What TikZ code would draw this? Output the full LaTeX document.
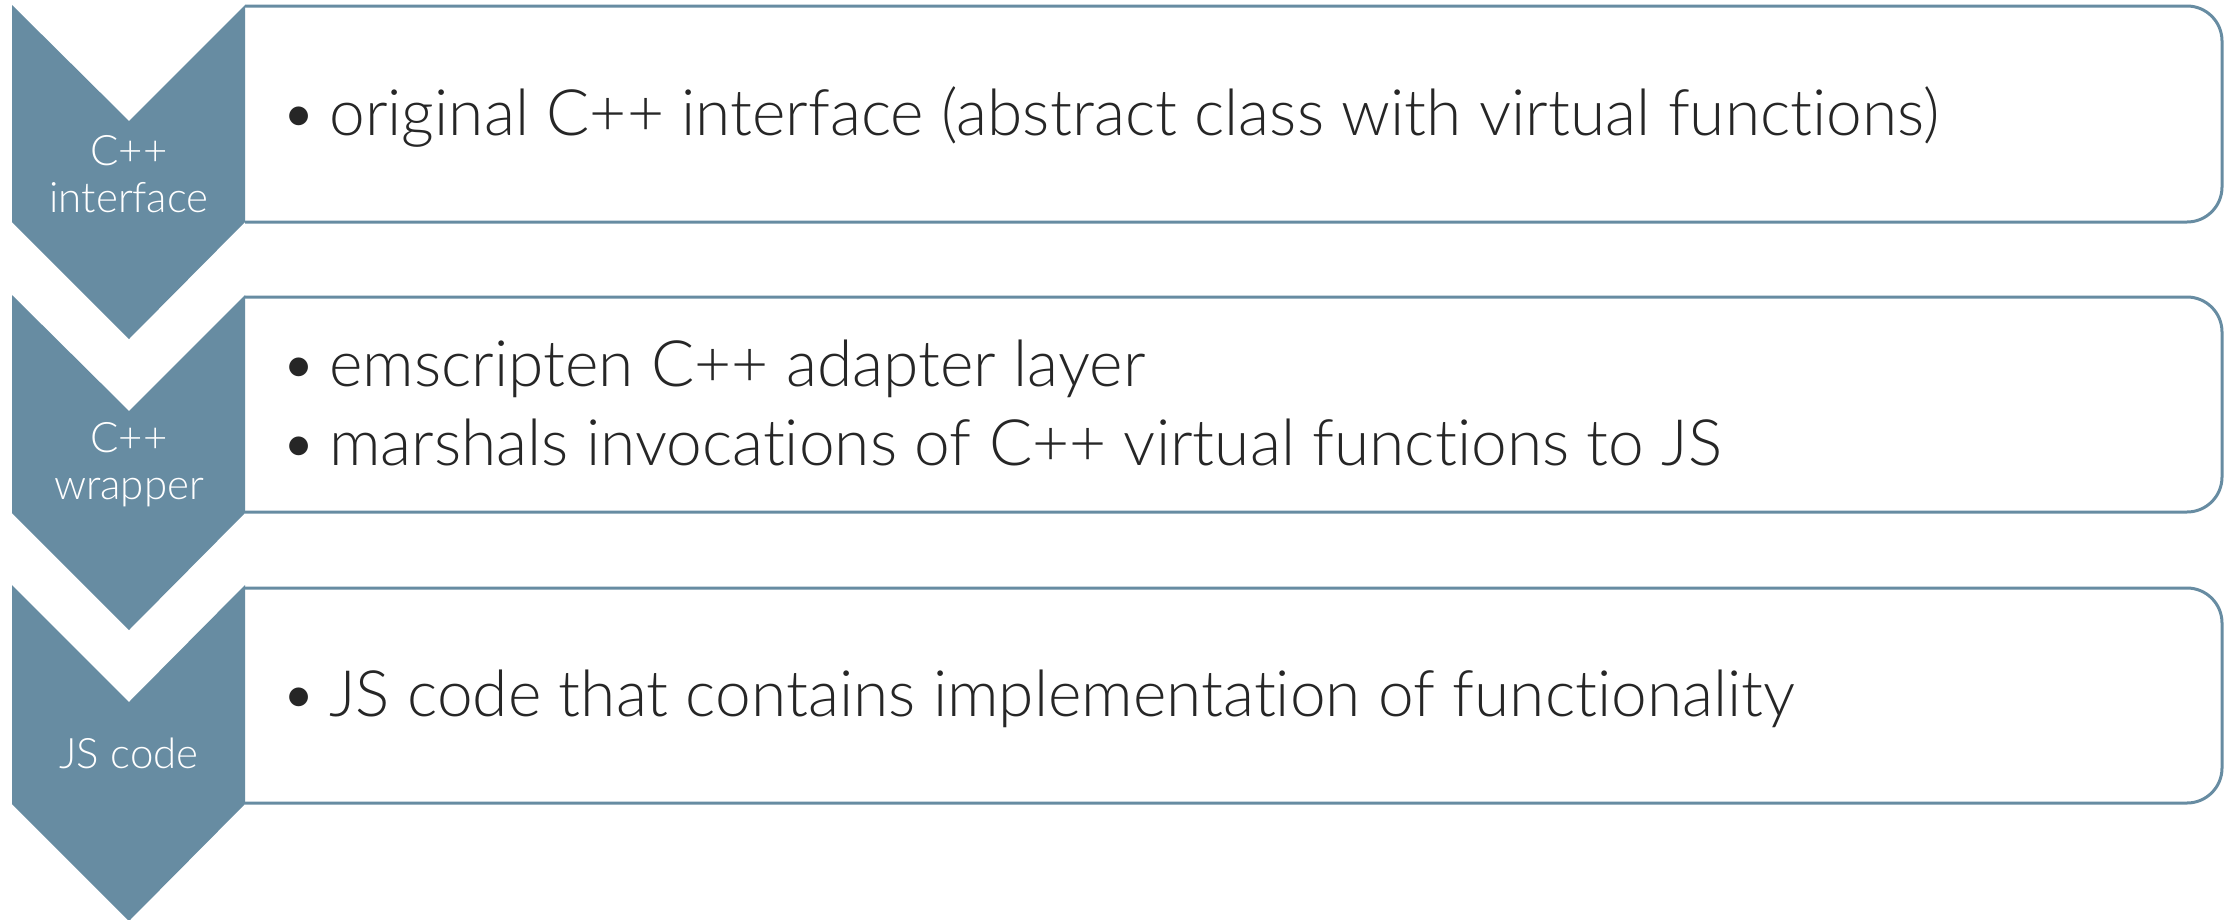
\documentclass[tikz,border=0pt]{standalone}
\usepackage{fontspec}
\setmainfont{Lato}[UprightFont={* Light},Ligatures=NoCommon]
\definecolor{chev}{HTML}{678CA2}
\definecolor{txt}{HTML}{262626}
\begin{document}
\begin{tikzpicture}[x=1pt,y=-1pt,
  chevfill/.style={fill=chev, draw=none},
  panel/.style={draw=chev, line width=3pt, rounded corners=35pt, fill=white},
  chevlabel/.style={text=white, font=\fontsize{42}{47}\selectfont, align=center, inner sep=0pt},
  itemtext/.style={text=txt, font=\fontsize{64}{79}\selectfont, anchor=base west, inner sep=0pt}]
\useasboundingbox (0,0) rectangle (2233,919);
% panels
\draw[panel] (245,6) -- (2222,6) -- (2222,222) -- (245,222);
\draw[panel] (245,297) -- (2222,297) -- (2222,512) -- (245,512);
\draw[panel] (245,588) -- (2222,588) -- (2222,803) -- (245,803);
% chevrons
\fill[chevfill] (12,5) -- (129,121) -- (245,5) -- (245,222) -- (129,339) -- (12,222) -- cycle;
\fill[chevfill] (12,295) -- (129,411) -- (245,295) -- (245,513) -- (129,630) -- (12,513) -- cycle;
\fill[chevfill] (12,585) -- (129,702) -- (245,585) -- (245,804) -- (129,921) -- (12,804) -- cycle;
% labels
\node[chevlabel] (l1) at (129,174) {C++\\interface};
\node[chevlabel] (l2) at (129,465) {C++\\wrapper};
\node[chevlabel] (l3) at (129,753) {JS code};
% items
\node[itemtext] (t1) at (280,135) {\textbullet\hspace{12pt}original C++ interface (abstract class with virtual functions)};
\node[itemtext] (t2) at (280,386) {\textbullet\hspace{12pt}emscripten C++ adapter layer};
\node[itemtext] (t3) at (280,465) {\textbullet\hspace{12pt}marshals invocations of C++ virtual functions to JS};
\node[itemtext] (t4) at (280,716) {\textbullet\hspace{12pt}JS code that contains implementation of functionality};
\end{tikzpicture}
\end{document}
